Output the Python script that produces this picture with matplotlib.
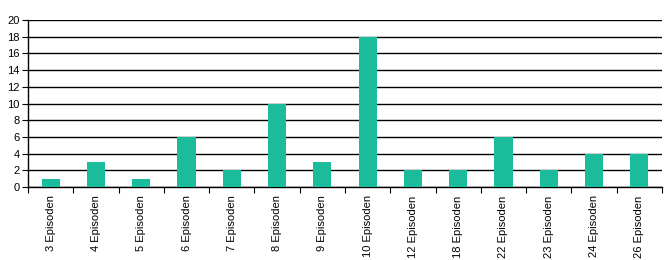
import matplotlib
matplotlib.use("Agg")
import matplotlib.pyplot as plt
import numpy as np
from matplotlib.ticker import FixedLocator

categories = ["3 Episoden", "4 Episoden", "5 Episoden", "6 Episoden", "7 Episoden",
              "8 Episoden", "9 Episoden", "10 Episoden", "12 Episoden", "18 Episoden",
              "22 Episoden", "23 Episoden", "24 Episoden", "26 Episoden"]
values = [1, 3, 1, 6, 2, 10, 3, 18, 2, 2, 6, 2, 4, 4]
yticks = list(range(0, 21, 2))

plt.rcParams['font.family'] = ['Liberation Sans', 'DejaVu Sans']

fig = plt.figure(figsize=(6.7, 2.6), dpi=100)
ax = fig.add_axes([28/670, 1-187/260, (662-28)/670, (187-20)/260])

x = np.arange(len(categories))
ax.bar(x, values, width=0.4, color='#1ABC9C', zorder=3)
ax.set_xlim(-0.5, len(categories)-0.5)
ax.set_ylim(0, 20)
ax.set_yticks(yticks)
ax.yaxis.grid(True, color='black', linewidth=1, zorder=1)
ax.set_axisbelow(True)

ax.set_xticks(x)
ax.set_xticklabels(categories, rotation=90, fontsize=8)
ax.tick_params(axis='x', length=0, pad=6)
ax.xaxis.set_minor_locator(FixedLocator(np.arange(-0.5, len(categories), 1.0)))
ax.tick_params(axis='x', which='minor', length=4, width=0.8, direction='out')
ax.tick_params(axis='y', labelsize=8, length=4, width=0.8, pad=2)

for s in ['top', 'right']:
    ax.spines[s].set_visible(False)
for s in ['left', 'bottom']:
    ax.spines[s].set_color('black')
    ax.spines[s].set_linewidth(1)

fig.savefig("out.png", dpi=100)
